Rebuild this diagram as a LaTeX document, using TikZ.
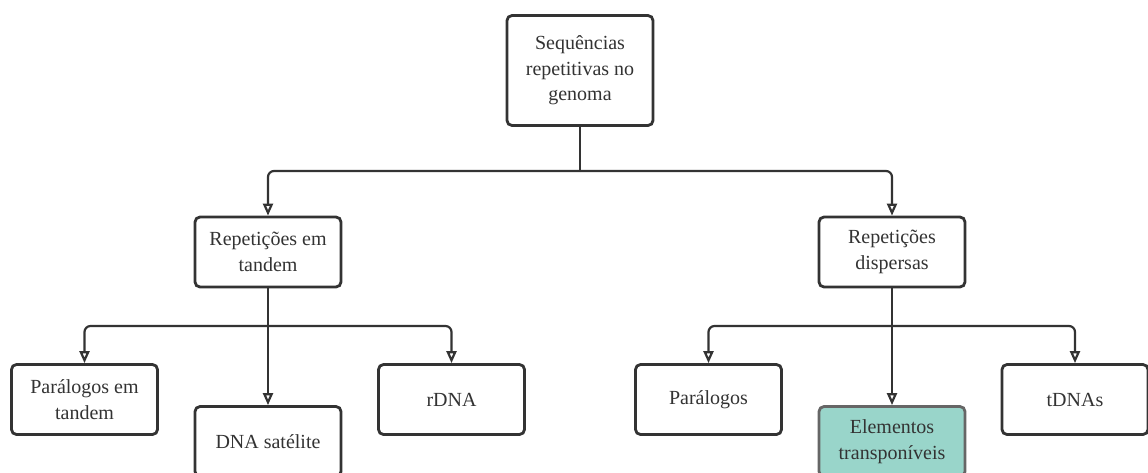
\documentclass[tikz,border=0pt]{standalone}
\usepackage{fontspec}
\setmainfont{Liberation Serif}
\usetikzlibrary{arrows.meta}
\definecolor{ink}{HTML}{333333}
\definecolor{teal}{HTML}{99D5CA}
\definecolor{tealedge}{HTML}{666666}
\tikzset{
  box/.style={draw=ink, line width=2.8pt, rounded corners=5pt, fill=white,
    minimum width=146pt, minimum height=70pt, inner sep=0pt,
    align=center, text=ink, font=\fontsize{20}{25.5}\selectfont},
  tallbox/.style={box, minimum height=110pt},
  hilite/.style={box, fill=teal, draw=tealedge},
  link/.style={draw=ink, line width=2.2pt, rounded corners=6pt,
    -{Triangle[open, length=12pt, width=10pt, fill=white]}},
  trunk/.style={draw=ink, line width=2.2pt}
}
\begin{document}
\begin{tikzpicture}[x=1pt, y=-1pt]
\useasboundingbox (0,0) rectangle (1148,472);

% top level
\node[tallbox] (root) at (580,70.5) {Sequências\\repetitivas no\\genoma};

% second level
\node[box] (tandem) at (268,252) {Repetições em\\tandem};
\node[box] (disp) at (892,252) {Repetições\\dispersas};

% third level, tandem branch
\node[box] (partand) at (84.5,399.5) {Parálogos em\\tandem};
\node[box] (sat) at (268,441.5) {DNA satélite};
\node[box] (rdna) at (451.5,399.5) {rDNA};

% third level, dispersed branch
\node[box] (par) at (708.5,399.5) {Parálogos};
\node[hilite] (te) at (892,441.5) {Elementos\\transponíveis};
\node[box] (tdna) at (1075,399.5) {tDNAs};

% connectors from the root
\coordinate (j0) at (580,171);
\draw[trunk] (root.south) -- (j0);
\draw[link] (j0) -| (tandem.north);
\draw[link] (j0) -| (disp.north);

% connectors from the tandem node
\coordinate (j1) at (268,326);
\draw[trunk] (tandem.south) -- (j1);
\draw[link] (j1) -| (partand.north);
\draw[link] (j1) -| (rdna.north);
\draw[link] (j1) -- (sat.north);

% connectors from the dispersed node
\coordinate (j2) at (892,326);
\draw[trunk] (disp.south) -- (j2);
\draw[link] (j2) -| (par.north);
\draw[link] (j2) -| (tdna.north);
\draw[link] (j2) -- (te.north);
\end{tikzpicture}
\end{document}
